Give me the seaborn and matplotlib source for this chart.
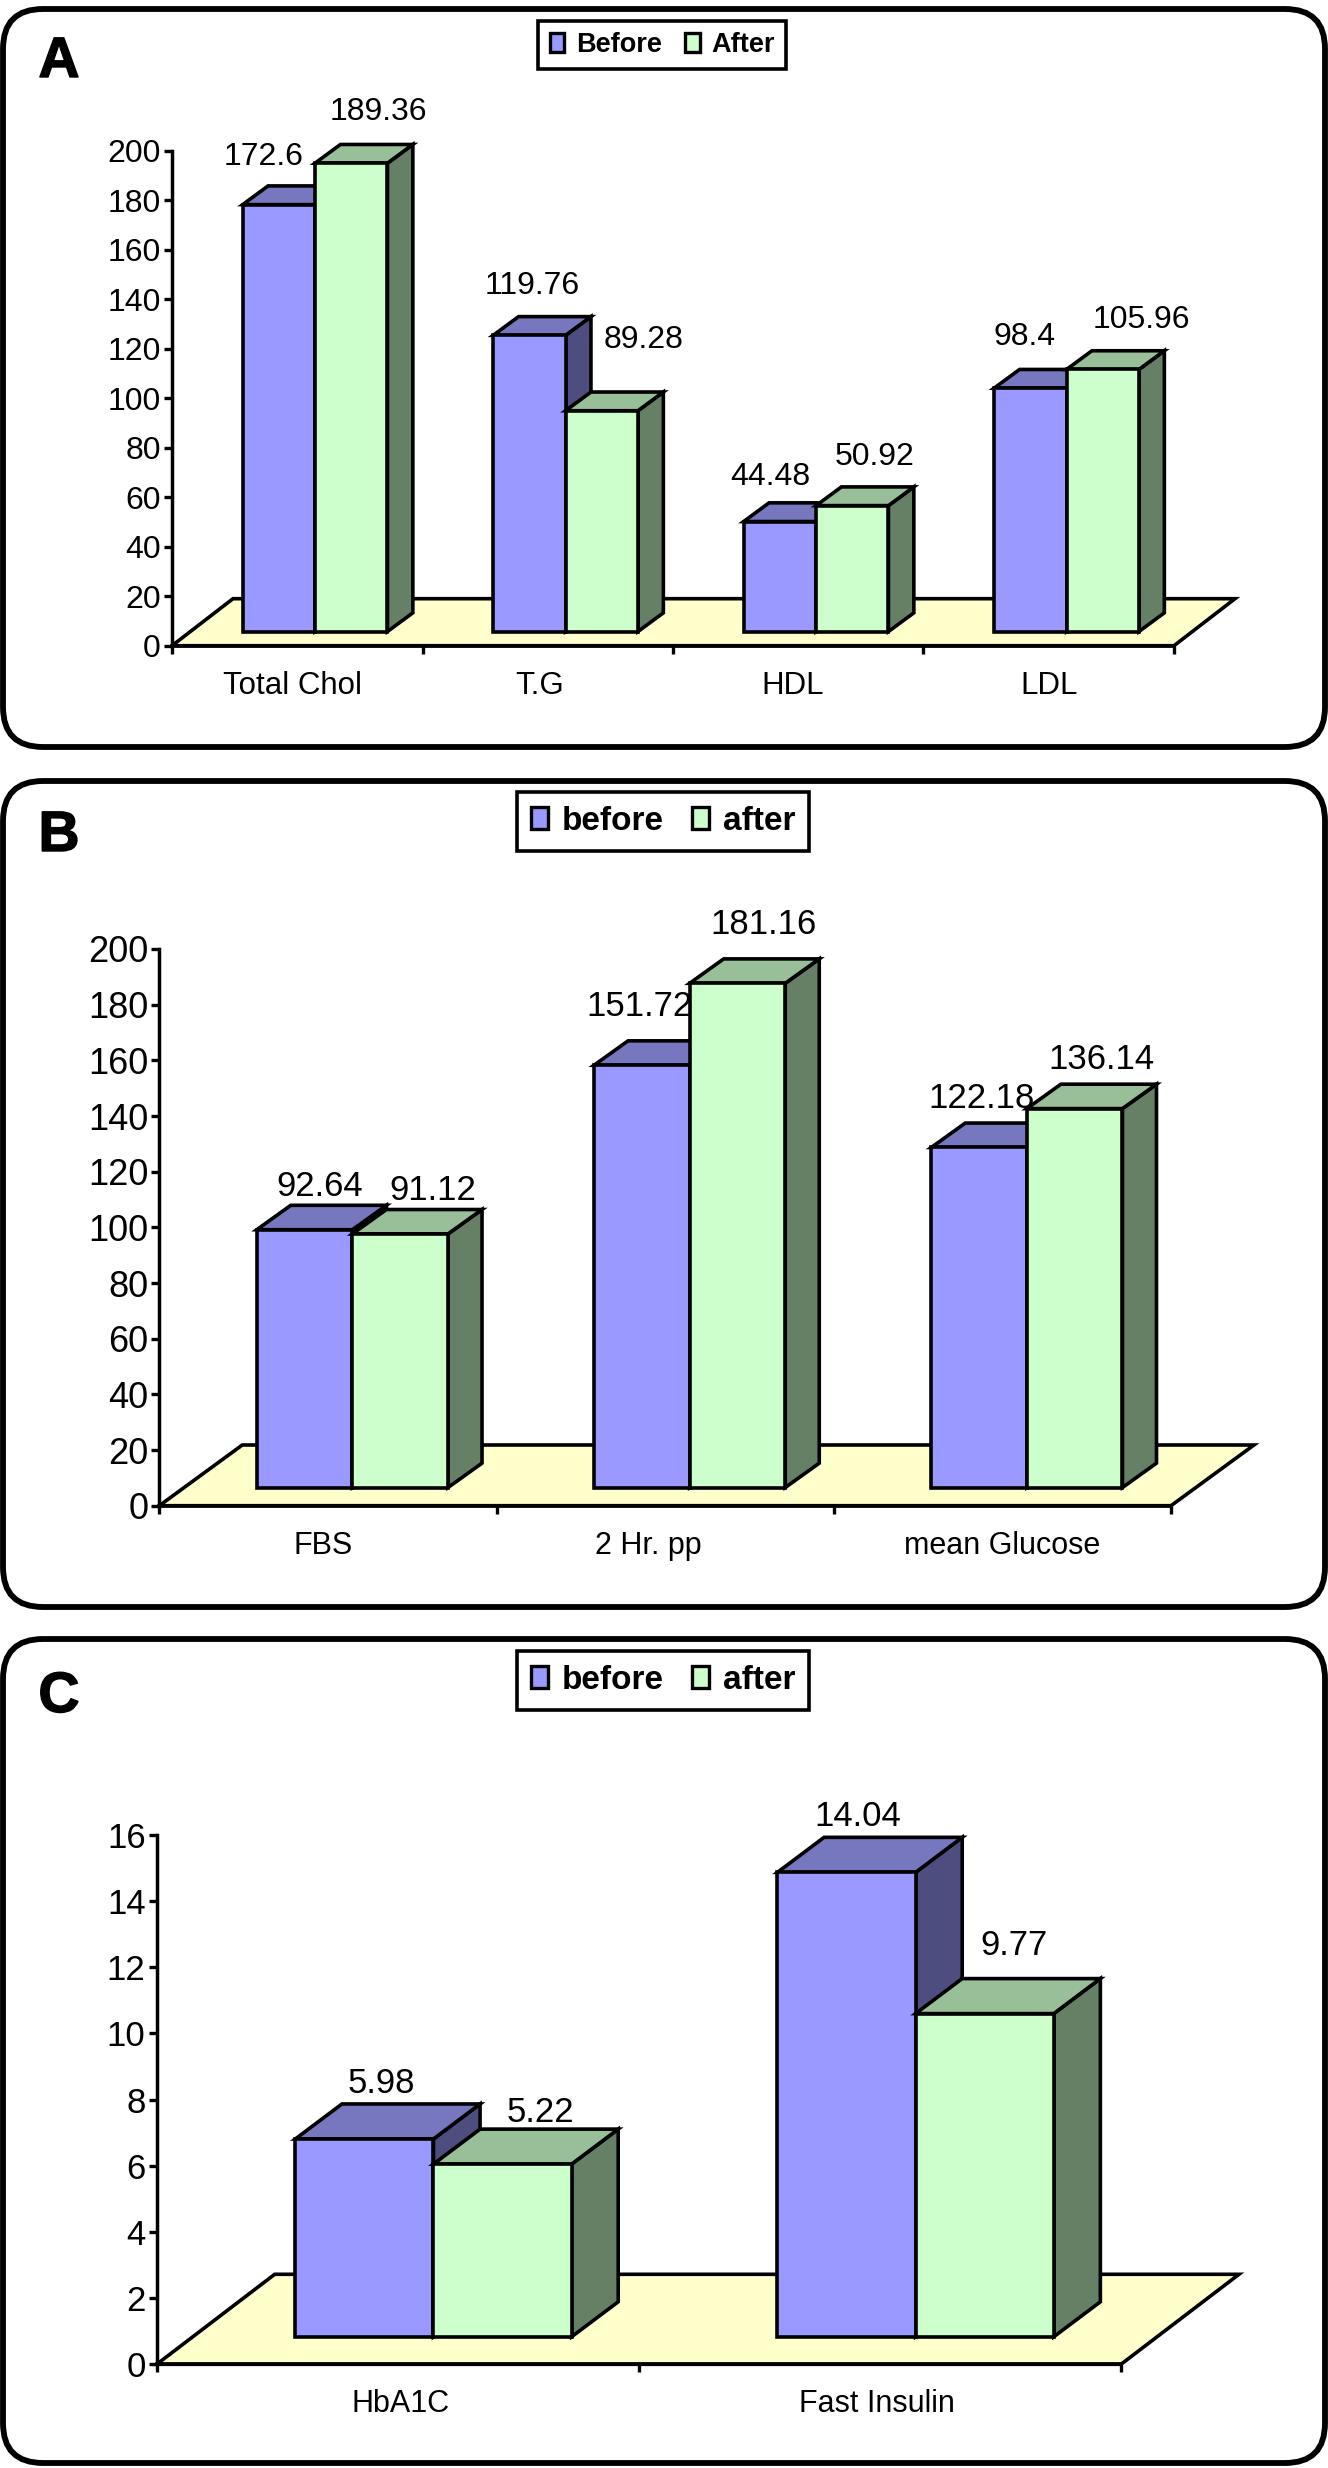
import numpy as np
import pandas as pd
import matplotlib
matplotlib.use('Agg')
import matplotlib.pyplot as plt
import matplotlib.patheffects as pe
import matplotlib.transforms as mtrans
import seaborn as sns
from matplotlib.patches import FancyBboxPatch, Polygon

W, H = 1328, 2468

# panel A
a_tests = ['Total Chol', 'T.G', 'HDL', 'LDL']
a_before = [172.6, 119.76, 44.48, 98.4]
a_after = [189.36, 89.28, 50.92, 105.96]
a_names = ['Before', 'After']
a_yticks = list(range(0, 201, 20))

# panel B
b_tests = ['FBS', '2 Hr. pp', 'mean Glucose']
b_before = [92.64, 151.72, 122.18]
b_after = [91.12, 181.16, 136.14]
b_names = ['before', 'after']
b_yticks = list(range(0, 201, 20))

# panel C
c_tests = ['HbA1C', 'Fast Insulin']
c_before = [5.98, 14.04]
c_after = [5.22, 9.77]
c_names = ['before', 'after']
c_yticks = list(range(0, 17, 2))

# colours: front, top, side
before_cols = ['#9999FF', '#7777BF', '#4D4D80']
after_cols = ['#CCFFCC', '#99BF99', '#668066']
floor_col = '#FFFFCC'

sns.set_theme(style='white')
plt.rcParams['font.family'] = ['Liberation Sans', 'DejaVu Sans']

fig = plt.figure(figsize=(W / 100, H / 100), dpi=100)

# background layer in pixels for the round frames and panel letters
bg = fig.add_axes([0, 0, 1, 1], zorder=0)
bg.set_xlim(0, W)
bg.set_ylim(H, 0)
bg.axis('off')


def panel(letter, tests, before, after, names, yticks, frame, letter_y, rect, floor, depth,
          group, off_before, off_after, leg_box, leg_size, leg_hl, tick_size, val_size, xlab_size, xlab_shift):
    # frame
    fx0, fy0, fx1, fy1 = frame
    bg.add_patch(FancyBboxPatch((fx0 + 40, fy0 + 40), fx1 - fx0 - 80, fy1 - fy0 - 80,
                                boxstyle='round,pad=40,rounding_size=40',
                                fc='white', ec='black', lw=4.2))
    bg.text(59, letter_y, letter, fontsize=41, fontweight='bold', ha='center', va='center', color='black',
            path_effects=[pe.withStroke(linewidth=1, foreground='black')])

    x0, x1, y_top, y_zero = rect
    ax = fig.add_axes([x0 / W, 1 - y_zero / H, (x1 - x0) / W, (y_zero - y_top) / H], zorder=1)
    ax.patch.set_alpha(0)

    n = len(tests)
    px_x = (x1 - x0) / n
    px_y = (y_zero - y_top) / yticks[-1]

    # depth of the floor and of the bars, in data units
    fdx, fdy = floor[0] / px_x, floor[1] / px_y
    bdx, bdy = depth[0] / px_x, depth[1] / px_y
    shift_x = (fdx - bdx) / 2
    base_y = (fdy - bdy) / 2

    df = pd.DataFrame({
        'test': tests * 2,
        'value': list(before) + list(after),
        'period': [names[0]] * n + [names[1]] * n,
    })
    sns.barplot(data=df, x='test', y='value', hue='period', ax=ax, width=group,
                palette=[before_cols[0], after_cols[0]], edgecolor='black', linewidth=2.6,
                saturation=1, errorbar=None, gap=0)

    ax.set_xlim(-0.5, n - 0.5)
    ax.set_ylim(0, yticks[-1])

    # floor
    ax.add_patch(Polygon([(-0.5, 0), (n - 0.5, 0), (n - 0.5 + fdx, fdy), (-0.5 + fdx, fdy)],
                         closed=True, fc=floor_col, ec='black', lw=2.6, clip_on=False, zorder=1))

    for s, (cont, cols, offs) in enumerate(zip(ax.containers, [before_cols, after_cols], [off_before, off_after])):
        for i, bar in enumerate(cont):
            # the front face stands in the middle of the floor depth
            bar.set_x(bar.get_x() + shift_x)
            bar.set_y(base_y)
            l, r = bar.get_x(), bar.get_x() + bar.get_width()
            b, t = bar.get_y(), bar.get_y() + bar.get_height()
            z = 3 + s + i * 3
            ax.add_patch(Polygon([(r, b), (r + bdx, b + bdy), (r + bdx, t + bdy), (r, t)], closed=True,
                                 fc=cols[2], ec='black', lw=2.6, clip_on=False, zorder=z))
            ax.add_patch(Polygon([(l, t), (r, t), (r + bdx, t + bdy), (l + bdx, t + bdy)], closed=True,
                                 fc=cols[1], ec='black', lw=2.6, clip_on=False, zorder=z + 0.1))
            bar.set_zorder(z + 0.2)
            ax.annotate(f'{bar.get_height():g}', xy=((l + r) / 2, t), xytext=(offs[i][0], offs[i][1] - 2),
                        textcoords='offset pixels', ha='center', va='center',
                        fontsize=val_size, color='black', zorder=50, annotation_clip=False)

    # axes
    sns.despine(ax=ax)
    ax.spines['left'].set_linewidth(2.5)
    ax.spines['bottom'].set_linewidth(2.6)
    ax.spines['left'].set_color('black')
    ax.spines['bottom'].set_color('black')
    ax.set_xlabel('')
    ax.set_ylabel('')
    ax.set_yticks(yticks)
    ax.tick_params(axis='y', length=6, width=2.4, left=True, pad=2, labelsize=tick_size, colors='black')
    ax.set_xticks(np.arange(n + 1) - 0.5, minor=True)
    ax.tick_params(axis='x', which='minor', length=6, width=2.4, bottom=True, color='black')
    ax.tick_params(axis='x', which='major', length=0, pad=18, labelsize=xlab_size, labelcolor='black')
    for lab, dx in zip(ax.get_xticklabels(), xlab_shift):
        lab.set_transform(lab.get_transform() + mtrans.Affine2D().translate(dx, 0))

    # legend box
    old = ax.get_legend()
    handles = old.legend_handles
    labels = [t.get_text() for t in old.get_texts()]
    old.remove()
    for h, c in zip(handles, [before_cols[0], after_cols[0]]):
        h.set_facecolor(c)
        h.set_edgecolor('black')
        h.set_linewidth(2.4)
    lx0, ly0, lx1, ly1 = leg_box
    leg = ax.legend(handles, labels, ncol=2, loc='center',
                    bbox_to_anchor=((lx0 + lx1) / 2 / W, 1 - (ly0 + ly1) / 2 / H), bbox_transform=fig.transFigure,
                    frameon=True, fancybox=False, framealpha=1, edgecolor='black', labelcolor='black',
                    prop={'weight': 'bold', 'size': leg_size, 'family': 'Liberation Sans'},
                    handlelength=leg_hl, handleheight=0.65, handletextpad=0.42, columnspacing=0.85, borderpad=0.42)
    leg.get_frame().set_linewidth(2.6)
    leg.set_zorder(60)
    return ax


panel('A', a_tests, a_before, a_after, a_names, a_yticks,
      frame=(3, 9, 1325, 747), letter_y=62, rect=(172, 1174, 151, 645.7),
      floor=(61, 47), depth=(25.4, 18.7), group=0.578,
      off_before=[(-15, 50), (3, 51), (-10, 47), (-6, 53)],
      off_after=[(27, 53), (42, 73), (22, 51), (39, 51)],
      leg_box=(538, 21, 786, 69), leg_size=19.5, leg_hl=0.55, tick_size=23, val_size=23,
      xlab_size=22.5, xlab_shift=[-5, -8, -6, 0])

panel('B', b_tests, b_before, b_after, b_names, b_yticks,
      frame=(3, 781, 1325, 1607), letter_y=836, rect=(159.3, 1171, 949, 1505.7),
      floor=(83, 60.7), depth=(34, 24.4), group=0.567,
      off_before=[(15, 45), (-2, 61), (2, 51)],
      off_after=[(33, 45), (26, 61), (27, 51)],
      leg_box=(518, 792, 808, 851), leg_size=24, leg_hl=0.5, tick_size=26, val_size=25,
      xlab_size=22, xlab_shift=[-5, -17, 0])

panel('C', c_tests, c_before, c_after, c_names, c_yticks,
      frame=(3, 1639, 1325, 2463), letter_y=1697, rect=(156.7, 1121, 1835, 2364.3),
      floor=(118, 90), depth=(46.6, 35), group=0.573,
      off_before=[(17, 57), (11, 58)],
      off_after=[(37.5, 54), (29, 70)],
      leg_box=(518, 1651, 808, 1710), leg_size=24, leg_hl=0.5, tick_size=25, val_size=25,
      xlab_size=22, xlab_shift=[3, -3])

fig.savefig('out.png', dpi=100)
